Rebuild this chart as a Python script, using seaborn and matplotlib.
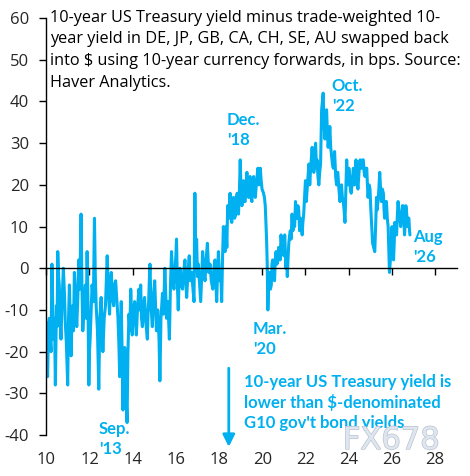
import pandas as pd
import matplotlib
matplotlib.use("Agg")
import matplotlib.pyplot as plt
import matplotlib.patheffects as pe
import seaborn as sns

# spread (bps): decimal year and value
years = [
    10.00, 10.03, 10.06, 10.10, 10.14, 10.18, 10.22, 10.24, 10.26, 10.30,
    10.33, 10.38, 10.42, 10.47, 10.50, 10.53, 10.57, 10.60, 10.64, 10.68,
    10.73, 10.79, 10.84, 10.88, 10.93, 10.99, 11.03, 11.07, 11.11, 11.15,
    11.19, 11.22, 11.26, 11.30, 11.35, 11.41, 11.46, 11.50, 11.55, 11.61,
    11.65, 11.69, 11.75, 11.81, 11.85, 11.89, 11.93, 11.97, 12.00, 12.03,
    12.08, 12.12, 12.18, 12.23, 12.27, 12.31, 12.37, 12.43, 12.48, 12.54,
    12.58, 12.62, 12.68, 12.74, 12.78, 12.82, 12.88, 12.93, 12.97, 13.01,
    13.06, 13.12, 13.16, 13.21, 13.27, 13.32, 13.36, 13.40, 13.44, 13.47,
    13.51, 13.55, 13.59, 13.63, 13.68, 13.74, 13.78, 13.83, 13.87, 13.91,
    13.94, 13.98, 14.03, 14.09, 14.13, 14.17, 14.23, 14.29, 14.33, 14.37,
    14.41, 14.45, 14.50, 14.55, 14.61, 14.68, 14.71, 14.74, 14.77, 14.80,
    14.85, 14.91, 14.96, 15.02, 15.06, 15.10, 15.16, 15.22, 15.26, 15.31,
    15.38, 15.43, 15.49, 15.53, 15.57, 15.63, 15.70, 15.75, 15.80, 15.86,
    15.91, 15.95, 16.00, 16.03, 16.07, 16.11, 16.15, 16.19, 16.25, 16.31,
    16.36, 16.42, 16.46, 16.50, 16.56, 16.62, 16.67, 16.73, 16.79, 16.84,
    16.88, 16.92, 16.96, 17.00, 17.04, 17.10, 17.15, 17.20, 17.24, 17.30,
    17.35, 17.40, 17.46, 17.52, 17.58, 17.64, 17.71, 17.76, 17.81, 17.85,
    17.89, 17.93, 17.97, 18.03, 18.08, 18.12, 18.16, 18.20, 18.24, 18.28,
    18.32, 18.36, 18.40, 18.44, 18.51, 18.55, 18.59, 18.63, 18.67, 18.72,
    18.78, 18.81, 18.84, 18.87, 18.90, 18.94, 18.98, 19.02, 19.06, 19.10,
    19.13, 19.17, 19.21, 19.25, 19.29, 19.33, 19.37, 19.40, 19.44, 19.48,
    19.52, 19.56, 19.60, 19.64, 19.68, 19.74, 19.80, 19.85, 19.91, 19.95,
    19.99, 20.06, 20.10, 20.14, 20.20, 20.23, 20.26, 20.30, 20.34, 20.38,
    20.42, 20.45, 20.48, 20.52, 20.57, 20.60, 20.64, 20.68, 20.73, 20.76,
    20.79, 20.83, 20.87, 20.91, 20.95, 21.00, 21.04, 21.07, 21.10, 21.13,
    21.16, 21.20, 21.23, 21.27, 21.30, 21.34, 21.38, 21.42, 21.46, 21.50,
    21.54, 21.58, 21.61, 21.65, 21.69, 21.73, 21.77, 21.81, 21.85, 21.88,
    21.92, 21.96, 22.00, 22.04, 22.08, 22.12, 22.16, 22.20, 22.23, 22.27,
    22.31, 22.35, 22.39, 22.43, 22.47, 22.51, 22.54, 22.58, 22.62, 22.66,
    22.70, 22.75, 22.82, 22.86, 22.90, 22.94, 22.98, 23.02, 23.05, 23.09,
    23.13, 23.17, 23.21, 23.25, 23.29, 23.32, 23.35, 23.40, 23.44, 23.47,
    23.50, 23.55, 23.60, 23.63, 23.67, 23.71, 23.75, 23.79, 23.83, 23.87,
    23.91, 23.94, 23.97, 24.01, 24.05, 24.08, 24.12, 24.17, 24.22, 24.25,
    24.28, 24.31, 24.34, 24.38, 24.43, 24.48, 24.53, 24.56, 24.60, 24.64,
    24.68, 24.72, 24.76, 24.80, 24.84, 24.87, 24.90, 24.95, 24.99, 25.02,
    25.05, 25.08, 25.11, 25.16, 25.21, 25.25, 25.29, 25.32, 25.36, 25.40,
    25.44, 25.48, 25.52, 25.56, 25.61, 25.64, 25.67, 25.71, 25.75, 25.79,
    25.83, 25.86, 25.89, 25.92, 25.95, 25.98, 26.01, 26.04, 26.08, 26.11,
    26.14, 26.18, 26.22, 26.25, 26.29, 26.33, 26.37, 26.41, 26.45, 26.49,
    26.53, 26.56, 26.59, 26.62, 26.65, 26.69, 26.73, 26.76, 26.79, 26.82,
    26.84,
]
spread = [
    -13, -22, -26, -15, -12, -17, -20, -8, 1, -10,
    -17, -12, -28, -9, -14, 4, -2, -4, -12, -17,
    -8, 0, -6, -13, -18, -28, -12, -4, -13, -21,
    -12, -9, -15, -1, -6, -14, -7, 2, -5, 13,
    -4, -15, -9, -4, -12, 4, -8, -28, -20, -17,
    -10, -4, -8, 12, -2, -9, -15, -29, -12, -7,
    -14, -20, -12, -9, -3, 3, -6, -11, -4, -1,
    -7, -9, -4, -3, -8, -12, -18, -26, -15, -8,
    -20, -34, -24, -19, -28, -37, -20, -11, -15, -5,
    -10, -16, -11, -8, -12, -16, -9, -5, -10, -4,
    -12, -14, -9, -7, -13, -17, -11, -8, -3, 1,
    -9, -14, -7, -3, -9, -15, -10, -17, -27, -12,
    -6, -11, 0, -6, -12, -8, -17, -4, 4, -3,
    -5, -1, 3, 7, -4, -10, -3, 0, -4, -5,
    -1, 2, -3, -7, -1, 3, -3, -1, -5, -8,
    18, 2, 7, -2, 1, -4, -8, -1, 4, -1,
    -3, 2, 6, -1, 1, -3, -5, 0, 2, -3,
    -8, -1, 4, -3, -1, -8, 2, 10, 5, 4,
    10, 5, 15, 12, 18, 12, 11, 16, 17, 12,
    13, 17, 18, 14, 13, 18, 26, 18, 15, 19,
    21, 16, 16, 20, 23, 18, 17, 21, 22, 17,
    16, 20, 22, 18, 17, 21, 24, 20, 24, 21,
    19, 18, 17, 15, 7, 1, -10, -3, -1, -5,
    -4, 1, 2, -2, -3, 2, 4, 1, 2, 5,
    4, 2, 8, 5, 6, 3, 8, 4, 0, 3,
    -2, 3, 6, 8, 9, 7, 13, 9, 12, 10,
    16, 12, 12, 15, 14, 9, 12, 10, 8, 11,
    13, 17, 21, 16, 19, 22, 25, 20, 23, 26,
    29, 25, 23, 27, 30, 24, 26, 22, 20, 23,
    25, 38, 42, 35, 31, 36, 38, 32, 29, 31,
    34, 29, 27, 25, 24, 26, 28, 22, 20, 23,
    23, 19, 16, 19, 20, 17, 16, 14, 11, 19,
    26, 21, 20, 24, 22, 19, 18, 21, 24, 20,
    20, 23, 26, 22, 19, 23, 26, 24, 24, 26,
    26, 23, 22, 24, 24, 20, 17, 20, 19, 15,
    12, 9, 6, 5, 4, 10, 17, 14, 16, 19,
    23, 19, 16, 19, 18, 14, 12, 16, 16, 12,
    10, 4, -1, 1, 3, 7, 10, 6, 2, 6,
    11, 9, 8, 12, 16, 13, 12, 10, 13, 15,
    15, 11, 8, 11, 15, 13, 10, 12, 12, 9,
    8,
]
y_ticks = [-40, -30, -20, -10, 0, 10, 20, 30, 40, 50, 60]
x_ticks = [10, 12, 14, 16, 18, 20, 22, 24, 26, 28]

title = ("10-year US Treasury yield minus trade-weighted 10-\n"
         "year yield in DE, JP, GB, CA, CH, SE, AU swapped back\n"
         "into $ using 10-year currency forwards, in bps. Source:\n"
         "Haver Analytics.")
note = ("10-year US Treasury yield is\n"
        "lower than $-denominated\n"
        "G10 gov't bond yields")

df = pd.DataFrame({"year": years, "spread": spread})
blue = "#00B0F0"

sns.set_theme(style="white")
plt.rcParams["font.family"] = ["Open Sans", "DejaVu Sans"]
plt.rcParams["axes.unicode_minus"] = False

fig = plt.figure(figsize=(4.7, 4.76), dpi=100)
ax = fig.add_axes([0.0985, 0.086, 0.873, 0.876])

sns.lineplot(data=df, x="year", y="spread", color=blue, lw=2.2, ax=ax)

ax.set_xlim(10, 29)
ax.set_ylim(-40, 60)
ax.set_yticks(y_ticks)
ax.set_yticklabels([str(v) for v in y_ticks], fontsize=12)
ax.set_xticks(x_ticks)
ax.set_xlabel("")
ax.set_ylabel("")

for s in ["top", "right"]:
    ax.spines[s].set_visible(False)
for s in ["left", "bottom"]:
    ax.spines[s].set_color("black")
    ax.spines[s].set_linewidth(1.0)
ax.spines["bottom"].set_position(("data", 0))
ax.tick_params(axis="x", direction="out", length=5, width=1, color="black",
               bottom=True, labelbottom=False)
ax.tick_params(axis="y", direction="out", length=5, width=1, color="black",
               left=True, pad=7.5)

# x labels sit at the bottom of the plot, ticks stay on the zero line
sec = ax.secondary_xaxis("bottom")
sec.set_xticks(x_ticks)
sec.set_xticklabels([str(v) for v in x_ticks], fontsize=12)
sec.tick_params(length=0, pad=12)
sec.spines["bottom"].set_visible(False)

ax.text(10.17, 62.0, title, ha="left", va="top", fontsize=11.7,
        color="black", linespacing=1.47)

lab = dict(color=blue, fontsize=12, fontweight="bold", ha="left", va="top",
           linespacing=1.3, family=["Lato", "DejaVu Sans"])
ax.text(18.37, 37.4, "Dec.\n'18", **lab)
ax.text(23.22, 45.6, "Oct.\n'22", **lab)
ax.text(26.97, 9.4, "Aug\n'26", **lab)
ax.text(19.57, -12.6, "Mar.\n'20", **lab)
ax.text(12.44, -36.6, "Sep.\n'13", **lab)
ax.text(19.15, -25.3, note, **lab)

ax.annotate("", xy=(18.45, -43.5), xytext=(18.45, -23.3),
            annotation_clip=False,
            arrowprops=dict(arrowstyle="-|>,head_length=0.6,head_width=0.3",
                            color=blue, lw=2))

ax.text(25.97, -41.3, "FX678", ha="center", va="center", fontsize=22,
        color="#dfe6ef", family=["DejaVu Sans"], clip_on=False,
        path_effects=[pe.withStroke(linewidth=1, foreground="#b9c3cf")])

fig.savefig("out.png", dpi=100)
